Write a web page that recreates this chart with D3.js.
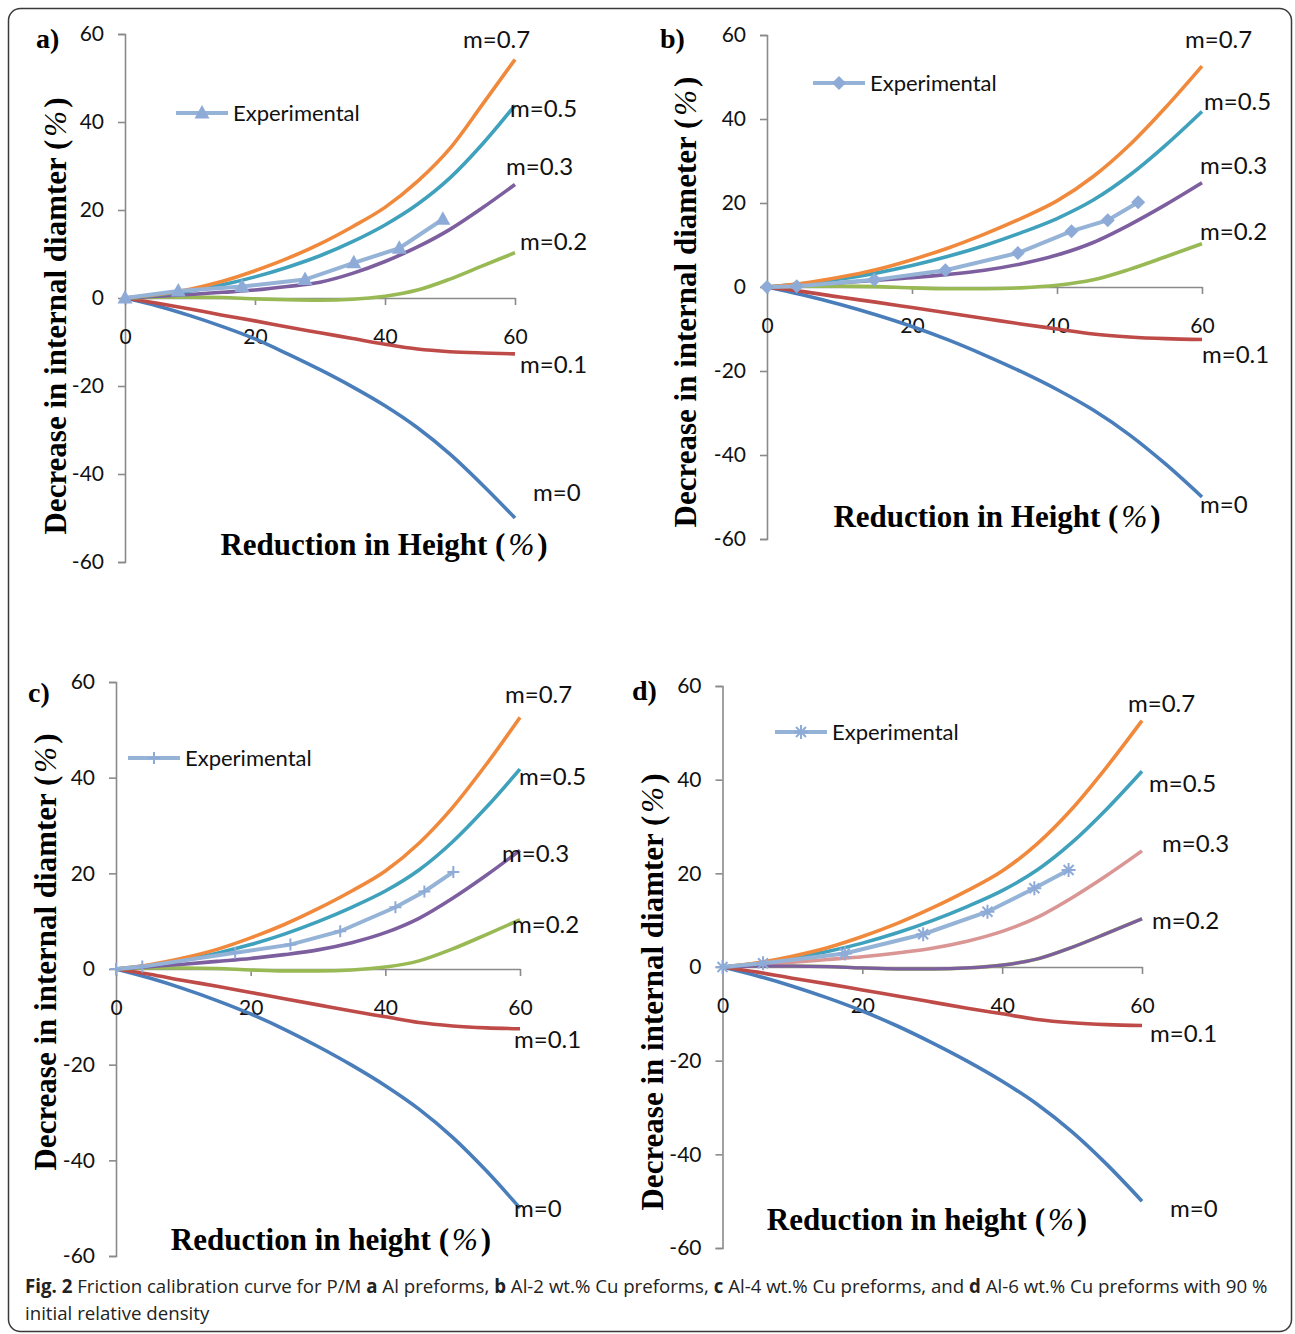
<!DOCTYPE html>
<html>
<head>
<meta charset="utf-8">
<script src="https://cdn.jsdelivr.net/npm/d3@7"></script>
<style>
  body{margin:0;background:#fff}
  svg{display:block}
</style>
</head>
<body>
<div id="chart"></div>
<script>
// --- data ---
var reduction = [0,5,10,15,20,25,30,35,40,45,50,55,60];
var xTicks = [0,20,40,60];
var yTicks = [-60,-40,-20,0,20,40,60];
var mNames = ["m=0","m=0.1","m=0.2","m=0.3","m=0.5","m=0.7"];

// panel a (Al)
var aM0  = [0,-1.8,-4,-6.5,-9.3,-12.7,-16.3,-20.2,-24.5,-29.5,-35.5,-42.5,-50];
var aM01 = [0,-1.2,-2.5,-3.9,-5.2,-6.6,-7.9,-9.2,-10.5,-11.6,-12.2,-12.5,-12.7];
var aM02 = [0,0.2,0.2,0.1,-0.2,-0.4,-0.5,-0.3,0.4,1.8,4.3,7.3,10.3];
var aM03 = [0,0.4,0.8,1.3,1.8,2.6,3.6,5.6,8.3,11.6,15.6,20.5,25.8];
var aM05 = [0,0.7,1.6,3.0,4.8,7.0,9.6,12.8,16.6,21.3,27.3,35,43.8];
var aM07 = [0,0.8,2,3.8,6.2,9.0,12.3,16.2,20.6,26.5,34,44,54.2];

// panels b, c, d (Al-Cu) - model curves are practically the same
var cuM0  = [0,-1.9,-4.1,-6.6,-9.4,-12.6,-16.2,-20.1,-24.4,-29.3,-35.2,-42.2,-50];
var cuM01 = [0,-1.1,-2.4,-3.6,-4.9,-6.2,-7.5,-8.8,-10.0,-11.2,-11.9,-12.3,-12.5];
var cuM02 = [0,0.2,0.2,0.1,-0.2,-0.4,-0.4,-0.2,0.4,1.7,4.2,7.2,10.3];
var cuM03 = [0,0.5,1.0,1.6,2.2,3.0,4.0,5.5,7.6,10.6,14.8,19.6,24.8];
var cuM05 = [0,0.8,1.9,3.3,5.1,7.3,9.9,12.9,16.3,20.7,26.6,33.8,41.8];
var cuM07 = [0,0.9,2.3,4.1,6.5,9.3,12.6,16.3,20.5,26.3,33.8,42.8,52.6];

// experimental points
var expAx = [0,8.2,18,27.7,35.2,42.2,48.9];
var expAy = [0,1.6,2.6,4.2,8.0,11.3,17.9];
var expBx = [0,4.1,14.8,24.6,34.6,42,47,51.2];
var expBy = [0,0.2,1.7,4.0,8.1,13.3,15.9,20.2];
var expCx = [0,3.9,17.7,25.9,33.3,41.5,45.8,50.1];
var expCy = [0,0.5,3.4,5.1,7.9,12.9,16.2,20.3];
var expDx = [0,5.8,17.5,28.7,37.9,44.6,49.5];
var expDy = [0,0.8,2.9,7.0,11.8,16.8,20.7];

// --- colours ---
var cBlue="#4a7ebb", cRed="#be4b48", cGreen="#98b954", cPurple="#7d5fa0",
    cTeal="#3fa1bb", cOrange="#f0893b", cPink="#d99694", cExp="#95b3d7";

var W=1295, H=1334;
var svg = d3.select("#chart").append("svg").attr("width",W).attr("height",H);

svg.append("rect")
  .attr("x",8.5).attr("y",8.5).attr("width",1283).attr("height",1323).attr("rx",12)
  .attr("fill","none").attr("stroke","#3a3a3a").attr("stroke-width",1.5);

var panels = [
  {tag:"a)", tagPos:[36,48], box:[125,515,34,562], marker:"triangle",
   exp:[expAx,expAy], legend:[176,113],
   xTitle:"Reduction in Height", xTitlePos:[384,555],
   yTitle:"Decrease in internal diamter", yTitlePos:[55,316],
   series:[[aM0,cBlue],[aM01,cRed],[aM02,cGreen],[aM03,cPurple],[aM05,cTeal],[aM07,cOrange]],
   labelOff:[[18,-25],[5,11],[5,-11],[-9,-18],[-5,3],[-52,-20]]},
  {tag:"b)", tagPos:[660,48], box:[767,1202,35,539], marker:"diamond",
   exp:[expBx,expBy], legend:[813,83],
   xTitle:"Reduction in Height", xTitlePos:[997,527],
   yTitle:"Decrease in internal diameter", yTitlePos:[685,302],
   series:[[cuM0,cBlue],[cuM01,cRed],[cuM02,cGreen],[cuM03,cPurple],[cuM05,cTeal],[cuM07,cOrange]],
   labelOff:[[-2,8],[0,15],[-2,-12],[-2,-17],[2,-10],[-17,-26]]},
  {tag:"c)", tagPos:[28,702], box:[116,520,682,1256], marker:"plus",
   exp:[expCx,expCy], legend:[128,758],
   xTitle:"Reduction in height", xTitlePos:[331,1250],
   yTitle:"Decrease in internal diamter", yTitlePos:[45,952],
   series:[[cuM0,cBlue],[cuM01,cRed],[cuM02,cGreen],[cuM03,cPurple],[cuM05,cTeal],[cuM07,cOrange]],
   labelOff:[[-6,0],[-6,11],[-8,5],[-18,3],[-1,8],[-15,-23]]},
  {tag:"d)", tagPos:[632,700], box:[722.5,1142,686,1248], marker:"star",
   exp:[expDx,expDy], legend:[775,732],
   xTitle:"Reduction in height", xTitlePos:[927,1230],
   yTitle:"Decrease in internal diamter", yTitlePos:[652,992],
   series:[[cuM0,cBlue],[cuM01,cRed],[cuM02,cGreen],[cuM03,cPink],[cuM05,cTeal],[cuM07,cOrange]],
   overlay:[cuM02,cPurple],
   labelOff:[[28,7],[8,8],[10,2],[20,-7],[7,12],[-14,-17]]}
];

function markerPath(type){
  var p = d3.path();
  if(type=="triangle"){ p.moveTo(0,-8); p.lineTo(7.5,5.5); p.lineTo(-7.5,5.5); p.closePath(); }
  else if(type=="diamond"){ p.moveTo(0,-7); p.lineTo(7,0); p.lineTo(0,7); p.lineTo(-7,0); p.closePath(); }
  else if(type=="plus"){ p.moveTo(-6,0); p.lineTo(6,0); p.moveTo(0,-6); p.lineTo(0,6); }
  else { // asterisk
    p.moveTo(-7,0); p.lineTo(7,0); p.moveTo(0,-7); p.lineTo(0,7);
    p.moveTo(-5,-5); p.lineTo(5,5); p.moveTo(-5,5); p.lineTo(5,-5);
  }
  return p.toString();
}
function drawMarker(g,type,x,y){
  var filled = (type=="triangle"||type=="diamond");
  g.append("path").attr("d",markerPath(type))
    .attr("transform","translate("+x+","+y+")")
    .attr("fill",filled?"#8eabd8":"none")
    .attr("stroke",filled?"none":"#8eabd8")
    .attr("stroke-width",2);
}

var serif = "'Liberation Serif','Times New Roman',serif";
var sans = "Lato, 'Open Sans', sans-serif";

function titleWithPct(t,label){
  t.append("tspan").text(label+" (");
  t.append("tspan").attr("dx",3).attr("font-style","italic").attr("font-weight","normal").text("%");
  t.append("tspan").attr("dx",3).text(")");
}

panels.forEach(function(p){
  var g = svg.append("g");
  var x = d3.scaleLinear().domain([0,60]).range([p.box[0],p.box[1]]);
  var y = d3.scaleLinear().domain([-60,60]).range([p.box[3],p.box[2]]);

  // axes
  var yAxis = g.append("g").attr("transform","translate("+x(0)+",0)")
    .call(d3.axisLeft(y).tickValues(yTicks).tickSize(7).tickPadding(14)
      .tickFormat(function(d){return String(d);}));
  var xAxis = g.append("g").attr("transform","translate(0,"+y(0)+")")
    .call(d3.axisBottom(x).tickValues(xTicks).tickSize(7).tickSizeOuter(0).tickPadding(24)
      .tickFormat(function(d){return String(d);}));
  [xAxis,yAxis].forEach(function(a){
    a.selectAll("path,line").attr("stroke","#8a8a8a").attr("stroke-width",1.6);
    a.selectAll("text").attr("font-family",sans).attr("font-size",21).attr("fill","#111");
  });

  // model curves
  var line = d3.line().x(function(d){return x(d[0]);}).y(function(d){return y(d[1]);})
    .curve(d3.curveMonotoneX);
  p.series.forEach(function(s){
    g.append("path").datum(reduction.map(function(r,i){return [r,s[0][i]];}))
      .attr("d",line).attr("fill","none").attr("stroke",s[1]).attr("stroke-width",3.6);
  });
  if(p.overlay){
    g.append("path").datum(reduction.map(function(r,i){return [r,p.overlay[0][i]];}))
      .attr("d",line).attr("fill","none").attr("stroke",p.overlay[1]).attr("stroke-width",3.2);
  }

  // experimental
  var pts = p.exp[0].map(function(v,i){return [v,p.exp[1][i]];});
  g.append("path").datum(pts)
    .attr("d",d3.line().x(function(d){return x(d[0]);}).y(function(d){return y(d[1]);}))
    .attr("fill","none").attr("stroke",cExp).attr("stroke-width",4);
  pts.forEach(function(d){ drawMarker(g,p.marker,x(d[0]),y(d[1])); });

  // legend
  g.append("line").attr("x1",p.legend[0]).attr("x2",p.legend[0]+52)
    .attr("y1",p.legend[1]).attr("y2",p.legend[1])
    .attr("stroke",cExp).attr("stroke-width",4);
  drawMarker(g,p.marker,p.legend[0]+26,p.legend[1]);
  g.append("text").attr("x",p.legend[0]+57).attr("y",p.legend[1])
    .attr("dy","0.35em").attr("font-family",sans)
    .attr("font-size",22).attr("fill","#111").text("Experimental");

  // curve labels
  p.series.forEach(function(s,i){
    var last = s[0][s[0].length-1];
    g.append("text").attr("x",x(60)+p.labelOff[i][0]).attr("y",y(last)+p.labelOff[i][1])
      .attr("dy","0.35em").attr("font-family",sans)
      .attr("font-size",24).attr("fill","#111").text(mNames[i]);
  });

  // titles
  var xt = g.append("text").attr("x",p.xTitlePos[0]).attr("y",p.xTitlePos[1])
    .attr("text-anchor","middle").attr("font-family",serif)
    .attr("font-weight","bold").attr("font-size",31).attr("fill","#000");
  titleWithPct(xt,p.xTitle);

  var yt = g.append("text")
    .attr("transform","translate("+p.yTitlePos[0]+","+p.yTitlePos[1]+") rotate(-90)")
    .attr("text-anchor","middle").attr("dy","0.35em").attr("font-family",serif)
    .attr("font-weight","bold").attr("font-size",31).attr("fill","#000");
  titleWithPct(yt,p.yTitle);

  g.append("text").attr("x",p.tagPos[0]).attr("y",p.tagPos[1])
    .attr("font-family",serif).attr("font-weight","bold").attr("font-size",28)
    .attr("fill","#000").text(p.tag);
});

// caption
var capFont = "'Open Sans','Noto Sans',sans-serif";
var cap1 = svg.append("text").attr("x",25).attr("y",1293)
  .attr("font-family",capFont).attr("font-size",19).attr("fill","#222");
[["Fig. 2",true],[" Friction calibration curve for P/M ",false],["a",true],[" Al preforms, ",false],
 ["b",true],[" Al-2 wt.% Cu preforms, ",false],["c",true],[" Al-4 wt.% Cu preforms, and ",false],
 ["d",true],[" Al-6 wt.% Cu preforms with 90 %",false]].forEach(function(t){
  cap1.append("tspan").attr("font-weight",t[1]?"bold":"normal").text(t[0]);
});
var capSize = Math.min(19, 19*1243/cap1.node().getComputedTextLength());
cap1.attr("font-size",capSize);
svg.append("text").attr("x",25).attr("y",1320)
  .attr("font-family",capFont).attr("font-size",capSize).attr("fill","#222")
  .text("initial relative density");
</script>
</body>
</html>
